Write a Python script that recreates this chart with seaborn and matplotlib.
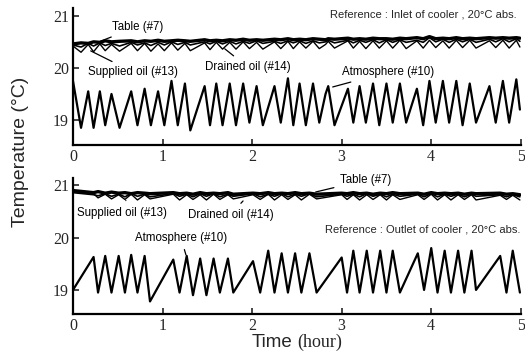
import numpy as np
import pandas as pd
import matplotlib
matplotlib.use("Agg")
import matplotlib.pyplot as plt
import seaborn as sns

# ---------------- data ----------------
# upper panel: reference = inlet of cooler
t_top = [0.00, 0.09, 0.17, 0.23, 0.30, 0.36, 0.43, 0.52, 0.65, 0.72,
         0.80, 0.87, 0.95, 1.02, 1.10, 1.17, 1.25, 1.31, 1.47, 1.53,
         1.60, 1.67, 1.75, 1.82, 1.90, 1.97, 2.05, 2.12, 2.25, 2.32,
         2.40, 2.46, 2.53, 2.60, 2.68, 2.75, 2.82, 2.85, 2.92, 3.07,
         3.13, 3.20, 3.27, 3.35, 3.42, 3.50, 3.57, 3.65, 3.72, 3.84,
         3.91, 3.98, 4.05, 4.13, 4.20, 4.28, 4.35, 4.43, 4.50, 4.65,
         4.72, 4.80, 4.87, 4.95, 4.99]
atmos_top = [19.75, 18.85, 19.55, 18.85, 19.55, 18.90, 19.50, 18.85, 19.55, 18.90,
             19.60, 18.90, 19.55, 18.90, 19.75, 18.90, 19.70, 18.80, 19.65, 18.90,
             19.70, 18.90, 19.70, 18.90, 19.70, 18.95, 19.65, 18.90, 19.65, 18.95,
             19.80, 18.90, 19.70, 18.90, 19.70, 18.95, 19.50, 19.65, 18.90, 19.60,
             18.95, 19.65, 18.95, 19.70, 18.90, 19.70, 18.95, 19.70, 18.95, 19.60,
             18.90, 19.75, 18.95, 19.75, 18.95, 19.75, 18.90, 19.70, 18.95, 19.65,
             18.95, 19.75, 18.95, 19.78, 19.20]
table_top = [20.46, 20.48, 20.47, 20.50, 20.49, 20.52, 20.50, 20.51, 20.52, 20.50,
             20.52, 20.51, 20.53, 20.51, 20.52, 20.53, 20.52, 20.51, 20.54, 20.52,
             20.53, 20.52, 20.54, 20.53, 20.55, 20.53, 20.54, 20.53, 20.55, 20.54,
             20.56, 20.54, 20.55, 20.54, 20.56, 20.55, 20.54, 20.56, 20.55, 20.57,
             20.55, 20.56, 20.55, 20.57, 20.56, 20.56, 20.55, 20.57, 20.56, 20.58,
             20.56, 20.60, 20.56, 20.57, 20.56, 20.58, 20.56, 20.57, 20.56, 20.58,
             20.57, 20.58, 20.57, 20.58, 20.57]
supplied_top = [20.42, 20.30, 20.45, 20.31, 20.46, 20.33, 20.45, 20.32, 20.47, 20.33,
                20.47, 20.32, 20.46, 20.33, 20.48, 20.34, 20.47, 20.33, 20.48, 20.35,
                20.49, 20.36, 20.49, 20.36, 20.50, 20.37, 20.49, 20.36, 20.50, 20.37,
                20.51, 20.37, 20.50, 20.38, 20.51, 20.37, 20.45, 20.51, 20.38, 20.52,
                20.38, 20.51, 20.37, 20.52, 20.38, 20.52, 20.38, 20.53, 20.37, 20.52,
                20.38, 20.53, 20.39, 20.52, 20.38, 20.53, 20.39, 20.53, 20.38, 20.52,
                20.39, 20.53, 20.38, 20.53, 20.40]
drained_top = [20.44, 20.40, 20.47, 20.42, 20.48, 20.43, 20.47, 20.42, 20.49, 20.44,
               20.48, 20.43, 20.49, 20.44, 20.50, 20.45, 20.49, 20.44, 20.50, 20.46,
               20.51, 20.46, 20.51, 20.46, 20.51, 20.47, 20.52, 20.47, 20.51, 20.47,
               20.52, 20.48, 20.52, 20.47, 20.52, 20.48, 20.50, 20.53, 20.48, 20.53,
               20.48, 20.53, 20.49, 20.54, 20.48, 20.54, 20.49, 20.54, 20.49, 20.53,
               20.49, 20.58, 20.50, 20.55, 20.49, 20.55, 20.50, 20.55, 20.49, 20.55,
               20.50, 20.56, 20.50, 20.56, 20.51]

# lower panel: reference = outlet of cooler
t_bot = [0.00, 0.23, 0.28, 0.36, 0.43, 0.51, 0.58, 0.65, 0.72, 0.80,
         0.86, 1.12, 1.19, 1.27, 1.34, 1.42, 1.49, 1.57, 1.64, 1.73,
         1.79, 2.01, 2.09, 2.18, 2.25, 2.33, 2.40, 2.48, 2.55, 2.64,
         2.72, 3.00, 3.06, 3.13, 3.20, 3.28, 3.35, 3.43, 3.50, 3.57,
         3.65, 3.85, 3.92, 4.00, 4.07, 4.15, 4.22, 4.30, 4.37, 4.45,
         4.50, 4.77, 4.84, 4.91, 4.99]
atmos_bot = [19.00, 19.63, 18.95, 19.65, 18.95, 19.65, 18.95, 19.67, 18.95, 19.65,
             18.78, 19.58, 18.95, 19.65, 18.90, 19.60, 18.90, 19.60, 18.95, 19.60,
             18.95, 19.55, 18.95, 19.75, 18.95, 19.70, 18.95, 19.70, 18.95, 19.70,
             18.95, 19.62, 18.95, 19.75, 18.95, 19.75, 18.95, 19.75, 18.95, 19.75,
             18.95, 19.70, 19.00, 19.80, 18.95, 19.75, 18.95, 19.75, 18.95, 19.75,
             19.00, 19.65, 18.95, 19.75, 18.95]
table_bot = [20.90, 20.86, 20.88, 20.85, 20.87, 20.85, 20.86, 20.84, 20.86, 20.85,
             20.84, 20.86, 20.84, 20.85, 20.83, 20.86, 20.84, 20.85, 20.84, 20.86,
             20.83, 20.85, 20.84, 20.86, 20.84, 20.85, 20.84, 20.86, 20.84, 20.85,
             20.83, 20.85, 20.84, 20.86, 20.84, 20.85, 20.83, 20.85, 20.84, 20.86,
             20.84, 20.85, 20.83, 20.86, 20.84, 20.85, 20.84, 20.85, 20.83, 20.85,
             20.84, 20.85, 20.83, 20.84, 20.82]
supplied_bot = [20.88, 20.84, 20.76, 20.83, 20.74, 20.82, 20.73, 20.83, 20.72, 20.82,
                20.74, 20.83, 20.72, 20.82, 20.73, 20.82, 20.72, 20.83, 20.73, 20.82,
                20.74, 20.82, 20.73, 20.83, 20.72, 20.82, 20.73, 20.82, 20.72, 20.83,
                20.74, 20.82, 20.73, 20.82, 20.72, 20.82, 20.73, 20.82, 20.72, 20.82,
                20.73, 20.82, 20.73, 20.83, 20.72, 20.82, 20.72, 20.82, 20.73, 20.82,
                20.72, 20.81, 20.73, 20.81, 20.72]
drained_bot = [20.86, 20.82, 20.80, 20.84, 20.79, 20.83, 20.78, 20.84, 20.79, 20.83,
               20.78, 20.84, 20.79, 20.83, 20.78, 20.84, 20.79, 20.84, 20.78, 20.83,
               20.79, 20.84, 20.78, 20.83, 20.79, 20.84, 20.78, 20.83, 20.79, 20.84,
               20.78, 20.83, 20.79, 20.83, 20.78, 20.84, 20.79, 20.83, 20.78, 20.83,
               20.79, 20.83, 20.78, 20.84, 20.78, 20.83, 20.79, 20.83, 20.78, 20.83,
               20.79, 20.82, 20.78, 20.82, 20.78]

x_ticks = [0, 1, 2, 3, 4, 5]
y_ticks = [19, 20, 21]

# ---------------- figure ----------------
sns.set_style("ticks")
plt.rcParams["font.family"] = ["Liberation Sans", "DejaVu Sans"]

fig = plt.figure(figsize=(5.25, 3.62), dpi=100)
ax1 = fig.add_axes([0.139, 0.5994, 0.853, 0.3786])
ax2 = fig.add_axes([0.139, 0.1326, 0.853, 0.3757])

def draw(ax, t, series, ylim):
    for vals, lw in series:
        df = pd.DataFrame({"t": t, "v": vals})
        sns.lineplot(data=df, x="t", y="v", ax=ax, color="black", lw=lw,
                     estimator=None, sort=False, solid_joinstyle="round")
    ax.set_xlim(0, 5)
    ax.set_ylim(*ylim)
    ax.set_xticks(x_ticks)
    ax.set_yticks(y_ticks)
    ax.set_xticklabels([str(v) for v in x_ticks], family="Liberation Serif", fontsize=11.5)
    ax.set_yticklabels([str(v) for v in y_ticks], family="Liberation Serif", fontsize=11.5)
    ax.tick_params(direction="in", length=4, width=1.2, pad=3)
    ax.set_xlabel("")
    ax.set_ylabel("")
    sns.despine(ax=ax)
    for s in ("left", "bottom"):
        ax.spines[s].set_linewidth(1.6)
        ax.spines[s].set_color("black")

draw(ax1, t_top, [(supplied_top, 1.0), (drained_top, 1.2), (table_top, 2.4), (atmos_top, 1.6)],
     (18.52, 21.15))
draw(ax2, t_bot, [(supplied_bot, 1.0), (drained_bot, 1.2), (table_bot, 2.4), (atmos_bot, 1.6)],
     (18.54, 21.14))

tk = dict(fontsize=8.3, color="black", va="center", ha="left")
ap = dict(arrowstyle="-", color="black", lw=0.9)

# upper panel labels
ax1.annotate("Table (#7)", xy=(0.26, 20.48), xytext=(0.435, 20.79), arrowprops=ap, **tk)
ax1.annotate("Supplied oil (#13)", xy=(0.17, 20.35), xytext=(0.17, 19.92), arrowprops=ap, **tk)
ax1.annotate("Drained oil (#14)", xy=(1.67, 20.40), xytext=(1.47, 20.02), arrowprops=ap, **tk)
ax1.annotate("Atmosphere (#10)", xy=(2.87, 19.62), xytext=(3.0, 19.92), arrowprops=ap, **tk)
ax1.text(4.955, 21.02, "Reference : Inlet of cooler , 20°C abs.", fontsize=8,
         ha="right", va="center")

# lower panel labels
ax2.annotate("Table (#7)", xy=(2.68, 20.86), xytext=(2.98, 21.10), arrowprops=ap, **tk)
ax2.annotate("Supplied oil (#13)", xy=(0.60, 20.76), xytext=(0.045, 20.48), arrowprops=ap, **tk)
ax2.annotate("Drained oil (#14)", xy=(1.92, 20.74), xytext=(1.28, 20.44), arrowprops=ap, **tk)
ax2.annotate("Atmosphere (#10)", xy=(1.27, 19.62), xytext=(0.69, 20.00), arrowprops=ap, **tk)
ax2.text(4.99, 20.15, "Reference : Outlet of cooler , 20°C abs.", fontsize=8,
         ha="right", va="center")

# axis titles
fig.text(0.040, 0.58, "Temperature (°C)", rotation=90, fontsize=14,
         ha="center", va="center")
fig.text(0.557, 0.055, "Time", fontsize=13.5, ha="right", va="center")
fig.text(0.566, 0.053, "(hour)", fontsize=13, family="Liberation Serif",
         ha="left", va="center")

fig.savefig("out.png", dpi=100)
